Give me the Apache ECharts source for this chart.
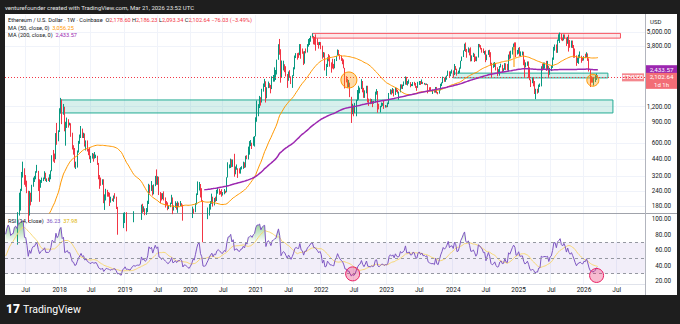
<!DOCTYPE html>
<html><head><meta charset="utf-8">
<script src="https://cdn.jsdelivr.net/npm/echarts@6/dist/echarts.min.js"></script>
<style>
html,body{margin:0;padding:0;background:#1e1e1e;}
#panel{position:absolute;left:5px;top:14px;width:672px;height:281px;background:#ffffff;}
#c{position:absolute;left:0;top:0;width:680px;height:324px;}
</style>
</head><body><div id="panel"></div><div id="c"></div>
<script>
// ---------- weekly closes (bars start Monday), from 2016-05-23 ----------
const c2016 = [12.5,13.9,17.5,12.6,13.6,11.9,11.0,11.4,12.6,11.5,10.7,11.2,11.2,11.0,11.9,11.7,12.6,13.0,13.2,12.0,11.9,11.5,10.9,10.9,10.0,9.6,8.9,7.6,8.2,7.8,7.2,8.2];
const c2017 = [10.2,9.8,10.6,10.5,11.3,11.4,12.8,15.0,19.2,23.0,34.0,50.0,48.6,
  43.6,48,49,79.5,90.5,88,154,172,245,335,355,283,282,238,155,226,197,265,298,298,347,350,298,258,283,302,309,336,296,297,296,307,354,471,462,450,720,674,755];
const c2018 = [1150,1370,1160,1250,830,860,925,845,865,720,540,520,385,400,510,620,690,785,685,715,570,615,525,500,455,455,490,450,460,465,405,320,295,275,295,197,220,245,232,226,196,205,204,213,212,175,115,118,91,84,130,137];
const c2019 = [155,117,119,113,107,120,133,138,131,136,138,137,141,185,166,170,156,162,188,262,251,265,230,268,310,290,307,230,226,208,222,206,195,186,172,178,189,211,173,176,186,172,183,182,189,184,140,150,150,141,132,128];
const c2020 = [136,146,165,161,189,228,265,270,218,199,124,122,125,142,158,180,195,209,187,206,202,231,241,236,229,221,227,241,236,311,386,391,434,392,428,353,366,370,355,351,374,377,406,396,455,448,560,575,600,589,652,685];
const c2021 = [975,1225,1230,1390,1315,1610,1810,1935,1420,1725,1855,1785,1690,2075,2140,2240,2310,2950,3910,3580,2100,2420,2630,2510,2240,1975,2320,2140,1895,2190,2550,3160,3310,3240,3225,3940,3410,3330,2925,3420,3415,3850,4060,4290,4610,4630,4300,4290,4190,4070,3920,4050];
const c2022 = [3830,3080,3330,2540,2600,3050,2870,2630,2620,2550,2520,2940,3140,3520,3260,3060,2920,2830,2520,2060,2050,1800,1810,1450,1130,1230,1070,1170,1360,1550,1680,1730,1935,1620,1430,1575,1770,1335,1310,1275,1320,1275,1310,1590,1620,1220,1140,1200,1260,1265,1185,1220];
const c2023 = [1200,1265,1550,1630,1570,1630,1515,1690,1595,1565,1590,1800,1750,1795,1860,2090,1860,1870,1900,1800,1805,1910,1890,1750,1720,1900,1950,1870,1930,1850,1860,1830,1850,1680,1650,1630,1620,1625,1595,1730,1580,1555,1665,1795,1895,2050,2010,2065,2170,2345,2200,2270,2280];
const c2024 = [2220,2510,2450,2260,2290,2500,2880,3110,3490,3880,3520,3450,3650,3450,3150,3160,3250,3120,2930,3070,3830,3780,3680,3620,3420,3440,2930,3250,3530,3270,2690,2550,2610,2750,2430,2270,2300,2580,2660,2440,2460,2750,2510,2460,3180,3080,3360,3700,3990,3870,3280,3360];
const c2025 = [3630,3270,3300,3310,2880,2630,2690,2820,2520,2020,1890,1980,1820,1550,1590,1580,1790,1810,2550,2490,2520,2530,2510,2540,2230,2500,2570,2960,3750,3790,3490,4260,4470,4780,4390,4300,4660,4450,4020,4520,4150,3980,4160,3900,3580,3180,2800,2990,3040,3110,2980,2940];
const c2026 = [3130,3090,3300,2950,2450,2090,2050,1960,1980,2050,2178.67,2102.64];

// ---------- weekly highs / lows, from 2017-04-03 ----------
const h2017 = [51,50,50.5,80,98,93,160,232,250,345,420,370,325,292,241,240,232,270,310,320,350,395,352,300,296,310,310,350,340,305,310,330,355,475,525,490,725,880,765];
const l2017 = [41,42,46.5,48.5,76,84,86,150,165,240,310,270,260,230,132,150,182,195,260,285,300,340,240,195,255,280,290,300,290,285,290,285,300,350,420,410,440,580,620];
const h2018 = [1165,1420,1380,1265,1200,900,975,945,885,875,730,575,545,420,520,625,705,830,790,730,720,630,630,535,550,470,495,490,505,480,470,410,325,310,300,300,225,250,245,235,232,215,208,220,230,215,177,125,120,93,145,158];
const l2018 = [740,1050,860,1030,750,570,800,805,840,675,530,480,375,365,375,500,590,660,660,660,560,520,510,475,440,410,445,420,445,450,395,300,250,265,270,190,167,200,215,215,180,192,198,195,207,170,104,105,88,82,82,118];
const h2019 = [160,160,126,122,115,125,138,163,141,141,141,143,144,185,188,179,172,173,199,275,270,290,268,272,320,362,318,315,235,230,230,238,212,198,193,182,192,223,212,182,197,191,197,192,198,190,185,156,153,151,146,133];
const l2019 = [130,111,114,108,102,104,117,132,125,125,130,133,131,138,158,161,151,152,160,187,229,240,220,225,263,270,270,222,190,200,205,200,175,182,166,170,176,187,154,165,174,168,158,177,180,178,136,138,145,139,117,124];
const h2020 = [138,148,178,171,190,229,288,285,274,253,201,148,146,150,175,187,198,228,215,210,215,245,254,250,240,248,235,249,241,312,415,398,445,439,438,488,383,398,370,370,378,385,420,415,470,475,560,622,635,603,675,685];
const l2020 = [126,133,143,155,160,185,222,242,212,195,90,107,121,124,140,150,168,188,178,182,195,198,228,223,225,215,220,225,230,234,310,370,372,378,380,315,330,360,308,335,334,362,366,372,376,440,438,480,565,535,570,560];
const h2021 = [980,1350,1260,1475,1440,1690,1870,2040,1950,1740,1940,1880,1820,2145,2200,2545,2420,2950,3960,4380,3600,2900,2890,2700,2600,2240,2350,2410,2140,2190,2550,3190,3340,3340,3370,3970,3970,3650,3450,3470,3650,3970,4370,4460,4650,4870,4630,4550,4780,4420,4120,4140];
const l2021 = [680,900,1000,1170,1225,1300,1600,1750,1300,1410,1710,1720,1550,1680,1935,1940,2000,2220,2940,3240,1900,2100,2400,2320,2140,1720,1970,2080,1850,1720,2150,2450,3040,2950,3050,3210,3000,3300,2660,2730,3330,3380,3780,3900,4150,4550,3950,3920,3500,3900,3640,3890];
const h2022 = [4125,3850,3410,3380,2720,3080,3280,3200,2800,3000,2720,2990,3170,3580,3550,3270,3190,3030,2960,2520,2150,2050,2000,1900,1450,1270,1230,1290,1370,1650,1790,1730,2030,1960,1720,1640,1790,1790,1400,1400,1390,1340,1340,1600,1680,1620,1270,1220,1300,1290,1350,1240];
const l2022 = [3600,3000,3080,2400,2160,2560,2860,2580,2300,2490,2450,2500,2870,3200,3170,2950,2880,2700,2500,1700,1910,1720,1740,1440,880,1040,1000,1060,1000,1340,1370,1550,1680,1580,1420,1420,1550,1300,1220,1260,1270,1190,1270,1300,1510,1070,1140,1075,1190,1220,1150,1180];
const h2023 = [1230,1300,1560,1675,1660,1715,1680,1740,1715,1660,1600,1840,1840,1830,1945,2140,2120,1960,2020,1920,1850,1920,1930,1890,1780,1930,1960,1960,2020,1930,1890,1870,1870,1850,1740,1745,1650,1660,1650,1750,1750,1590,1670,1860,1910,2130,2090,2130,2180,2390,2360,2360,2440];
const l2023 = [1185,1190,1260,1520,1510,1550,1460,1500,1590,1545,1370,1580,1690,1680,1780,1830,1820,1800,1860,1740,1780,1780,1800,1720,1625,1720,1820,1820,1850,1850,1830,1810,1820,1550,1640,1620,1610,1530,1570,1570,1550,1520,1540,1640,1780,1880,1930,1930,2010,2160,2120,2150,2260];
const h2024 = [2400,2715,2610,2480,2390,2540,2890,3130,3520,4000,4090,3620,3730,3650,3730,3200,3360,3300,3130,3130,3980,3970,3890,3690,3650,3480,3520,3250,3530,3560,3400,2780,2780,2820,2770,2550,2460,2610,2730,2670,2500,2760,2750,2720,3250,3450,3500,3740,4010,4100,4100,3550];
const l2024 = [2100,2200,2420,2170,2250,2280,2480,2870,3100,3480,3420,3060,3380,3200,2850,2860,3100,2820,2870,2860,3070,3730,3580,3370,3350,3250,2810,2920,3230,3090,2630,2110,2520,2560,2400,2150,2270,2170,2540,2310,2350,2430,2420,2400,2350,2960,3020,3250,3550,3530,3100,3250];
const h2025 = [3700,3750,3450,3450,3430,2950,2800,2850,2850,2550,2020,2100,2100,1960,1690,1690,1830,1870,2600,2740,2790,2790,2880,2880,2620,2520,2640,3070,3760,3940,3940,4330,4790,4950,4830,4490,4770,4770,4480,4560,4760,4290,4250,4250,3900,3650,3200,3060,3240,3450,3180,3060];
const l2025 = [3300,3150,3150,3200,2650,2120,2540,2620,2080,1990,1750,1880,1770,1530,1385,1540,1570,1750,1770,2400,2450,2480,2380,2440,2120,2210,2370,2520,2940,3500,3360,3360,4220,4060,4260,4200,4260,4400,3830,3990,3440,3700,3700,3680,3060,3060,2620,2770,2720,3030,2780,2880];
const h2026 = [3150,3300,3400,3320,3020,2460,2150,2100,2080,2200,2260,2186.23];
const l2026 = [2900,3050,3080,2880,2350,1750,1900,1900,1800,1920,2000,2093.34];

// ---------- axis ticks ----------
const priceTicks = [180,240,320,440,600,900,1200,3800,5000];
const rsiTicks = [20,40,60,80,100];

// ---------- drawings / annotations (data coords) ----------
const athZone = {from:'2021-11-08', to:'2026-07-20', top:4870, bottom:4450};
const supportZone = {from:'2018-01-08', to:'2026-06-08', top:1365, bottom:1065};
const smallZone = {from:'2024-01-01', to:'2026-05-11', top:2280, bottom:2080};
const priceCircles = [['2022-05-30',2000,16],['2026-02-16',1990,12]];
const rsiCircles = [['2022-06-20',29.5,14],['2026-03-09',27.5,14]];
const vMark = {week:'2024-12-02', top:3750, bottom:2560};
const lastPrice = 2102.64, ma200Last = 2433.57;

// ---------- build series ----------
const closes = [].concat(c2016,c2017,c2018,c2019,c2020,c2021,c2022,c2023,c2024,c2025,c2026);
const highs = [].concat(h2017,h2018,h2019,h2020,h2021,h2022,h2023,h2024,h2025,h2026);
const lows  = [].concat(l2017,l2018,l2019,l2020,l2021,l2022,l2023,l2024,l2025,l2026);
const DAY = 864e5, T0 = Date.UTC(2016,4,23);
const FUTURE = 37;
function fmt(t){const d=new Date(t);return d.getUTCFullYear()+'-'+String(d.getUTCMonth()+1).padStart(2,'0')+'-'+String(d.getUTCDate()).padStart(2,'0');}
const allDates = [];
for(let i=0;i<closes.length+FUTURE;i++) allDates.push(fmt(T0+i*7*DAY));
const VIEW = allDates.indexOf('2017-03-06');
const HL0 = allDates.indexOf('2017-04-03');

function sma(src,n){const out=[];for(let i=0;i<src.length;i++){if(i<n-1||src[i]==null||src[i-n+1]==null){out.push(null);continue;}let s=0;for(let j=i-n+1;j<=i;j++)s+=src[j];out.push(s/n);}return out;}
function rsiCalc(src,n){const out=new Array(src.length).fill(null);let ag=0,al=0;for(let i=1;i<src.length;i++){const ch=src[i]-src[i-1],g=Math.max(ch,0),l=Math.max(-ch,0);if(i<=n){ag+=g;al+=l;if(i===n){ag/=n;al/=n;out[i]=al===0?100:100-100/(1+ag/al);}}else{ag=(ag*(n-1)+g)/n;al=(al*(n-1)+l)/n;out[i]=al===0?100:100-100/(1+ag/al);}}return out;}

const ma50 = sma(closes,50), ma200 = sma(closes,200);
const rsi = rsiCalc(closes,14), rsiMa = sma(rsi,14);

const cats = allDates.slice(VIEW);
const candle=[], m50=[], m200=[], r=[], rm=[], obBase=[], obFill=[], osBase=[], osFill=[];
for(let k=VIEW;k<allDates.length;k++){
  const has = k<closes.length;
  if(has && k>=HL0) candle.push([closes[k-1],closes[k],lows[k-HL0],highs[k-HL0]]); else candle.push('-');
  const f=v=>(has&&v[k]!=null)?v[k]:'-';
  m50.push(f(ma50)); m200.push(f(ma200)); r.push(f(rsi)); rm.push(f(rsiMa));
  const rv = has?rsi[k]:null;
  if(rv!=null){obBase.push(70);obFill.push(Math.max(rv-70,0));osBase.push(Math.min(rv,30));osFill.push(30-Math.min(rv,30));}
  else{obBase.push('-');obFill.push('-');osBase.push('-');osFill.push('-');}
}

function mark(val){const e=new Date(Date.parse(val+'T00:00:00Z')+6*DAY);return e.getUTCDate()<=7&&(e.getUTCMonth()===0||e.getUTCMonth()===6);}
function markLabel(val){const e=new Date(Date.parse(val+'T00:00:00Z')+6*DAY);return e.getUTCMonth()===0?String(e.getUTCFullYear()):'Jul';}
const FONT='Roboto, "Liberation Sans", sans-serif';
const fmtPrice=v=>Number(v).toLocaleString('en-US',{minimumFractionDigits:2,maximumFractionDigits:2});

const chart = echarts.init(document.getElementById('c'),null,{renderer:'svg',width:680,height:324});
const xBase = {type:'category',data:cats,boundaryGap:true,axisLine:{show:false},axisTick:{show:false},
  splitLine:{show:true,interval:(i,v)=>mark(v),lineStyle:{color:'#f0f3fa',width:1}}};
const option = {
  backgroundColor:'transparent',
  animation:false,
  grid:[{left:5,top:15,width:640,height:198},{left:5,top:214,width:640,height:70}],
  xAxis:[
    Object.assign({},xBase,{gridIndex:0,axisLabel:{show:false}}),
    Object.assign({},xBase,{gridIndex:1,axisLabel:{show:true,interval:(i,v)=>mark(v),formatter:markLabel,color:'#131722',fontSize:6.5,fontFamily:FONT,margin:2}})
  ],
  yAxis:[
    {type:'log',logBase:10,gridIndex:0,position:'right',min:157.5,max:6920,
     axisLine:{show:false},axisTick:{show:false,customValues:priceTicks},
     axisLabel:{customValues:priceTicks,formatter:fmtPrice,color:'#131722',fontSize:6.3,fontFamily:FONT,align:'right',margin:26},
     splitLine:{show:true,lineStyle:{color:'#f0f3fa'}}},
    {type:'value',gridIndex:1,position:'right',min:16.45,max:106.8,
     axisLine:{show:false},axisTick:{show:false,customValues:rsiTicks},
     axisLabel:{customValues:rsiTicks,formatter:v=>Number(v).toFixed(2),color:'#131722',fontSize:6.3,fontFamily:FONT,align:'right',margin:26},
     splitLine:{show:false}}
  ],
  series:[
    {type:'candlestick',name:'ETHUSD',xAxisIndex:0,yAxisIndex:0,data:candle,barWidth:1,clip:true,
     itemStyle:{color:'#089981',color0:'#f23645',borderColor:'#089981',borderColor0:'#f23645',borderWidth:1},
     markArea:{silent:true,data:[
       [{xAxis:athZone.from,yAxis:athZone.top,itemStyle:{color:'rgba(242,54,69,0.12)',borderColor:'#f7525f',borderWidth:1}},{xAxis:athZone.to,yAxis:athZone.bottom}],
       [{xAxis:supportZone.from,yAxis:supportZone.top,itemStyle:{color:'rgba(34,171,148,0.18)',borderColor:'#22ab94',borderWidth:1}},{xAxis:supportZone.to,yAxis:supportZone.bottom}],
       [{xAxis:smallZone.from,yAxis:smallZone.top,itemStyle:{color:'rgba(34,171,148,0.18)',borderColor:'#22ab94',borderWidth:1}},{xAxis:smallZone.to,yAxis:smallZone.bottom}]
     ]},
     markLine:{silent:true,symbol:'none',label:{show:false},data:[
       {yAxis:lastPrice,lineStyle:{color:'#f23645',type:[1,2],width:1}},
       [{coord:[vMark.week,vMark.top],lineStyle:{color:'#ffb74d',type:'solid',width:1.5}},{coord:[vMark.week,vMark.bottom]}]
     ]},
     markPoint:{silent:true,data:priceCircles.map(p=>({coord:[p[0],p[1]],symbol:'circle',symbolSize:p[2],
       itemStyle:{color:'rgba(255,152,0,0.35)',borderColor:'#ff9800',borderWidth:1},label:{show:false}}))}
    },
    {type:'line',name:'MA 50',xAxisIndex:0,yAxisIndex:0,data:m50,showSymbol:false,lineStyle:{color:'#ff9800',width:1},clip:true,silent:true},
    {type:'line',name:'MA 200',xAxisIndex:0,yAxisIndex:0,data:m200,showSymbol:false,lineStyle:{color:'#9c27b0',width:1.5},clip:true,silent:true},
    {type:'line',xAxisIndex:1,yAxisIndex:1,data:obBase,stack:'ob',showSymbol:false,lineStyle:{opacity:0},silent:true},
    {type:'line',xAxisIndex:1,yAxisIndex:1,data:obFill,stack:'ob',showSymbol:false,lineStyle:{opacity:0},silent:true,
     areaStyle:{color:new echarts.graphic.LinearGradient(0,0,0,1,[{offset:0,color:'rgba(76,175,80,0.95)'},{offset:1,color:'rgba(76,175,80,0)'}])}},
    {type:'line',xAxisIndex:1,yAxisIndex:1,data:osBase,stack:'os',showSymbol:false,lineStyle:{opacity:0},silent:true},
    {type:'line',xAxisIndex:1,yAxisIndex:1,data:osFill,stack:'os',showSymbol:false,lineStyle:{opacity:0},silent:true,
     areaStyle:{color:new echarts.graphic.LinearGradient(0,0,0,1,[{offset:0,color:'rgba(242,54,69,0)'},{offset:1,color:'rgba(242,54,69,0.9)'}])}},
    {type:'line',name:'RSI-based MA',xAxisIndex:1,yAxisIndex:1,data:rm,showSymbol:false,lineStyle:{color:'#f7d774',width:1},silent:true},
    {type:'line',name:'RSI',xAxisIndex:1,yAxisIndex:1,data:r,showSymbol:false,lineStyle:{color:'#7e57c2',width:1},silent:true,
     markArea:{silent:true,data:[[{yAxis:30,itemStyle:{color:'rgba(126,87,194,0.1)'}},{yAxis:70}]]},
     markLine:{silent:true,symbol:'none',label:{show:false},lineStyle:{color:'#9598a1',type:[3,3],width:1},data:[{yAxis:70},{yAxis:50},{yAxis:30}]},
     markPoint:{silent:true,data:rsiCircles.map(p=>({coord:[p[0],p[1]],symbol:'circle',symbolSize:p[2],
       itemStyle:{color:'rgba(233,30,99,0.3)',borderColor:'#e91e63',borderWidth:1},label:{show:false}}))}
    }
  ]
};
chart.setOption(option);

const yLast = chart.convertToPixel({yAxisIndex:0},lastPrice);
const yMa = chart.convertToPixel({yAxisIndex:0},ma200Last);
const t=(x,y,text,fill,size)=>({type:'text',x,y,style:{text,fill,fontSize:size,fontFamily:FONT,verticalAlign:'middle',align:'left'}});
chart.setOption({graphic:[
  {type:'line',shape:{x1:5,y1:213.5,x2:677,y2:213.5},style:{stroke:'#a0a3ab',lineWidth:1.2}},
  {type:'line',shape:{x1:645.5,y1:14,x2:645.5,y2:295},style:{stroke:'#b2b5be',lineWidth:1}},
  {type:'line',shape:{x1:5,y1:284.5,x2:645,y2:284.5},style:{stroke:'#e0e3eb',lineWidth:1}},
  t(5,7,'venturefounder created with TradingView.com, Mar 21, 2026 23:52 UTC','#e6e6e6',6),
  {type:'text',x:8,y:20,style:{text:'{d|Ethereum / U.S. Dollar · 1W · Coinbase}  {d|O}{r|2,178.60} {d|H}{r|2,186.23} {d|L}{r|2,093.34} {d|C}{r|2,102.64} {r|−76.03 (−3.49%)}',
    verticalAlign:'middle',fontFamily:FONT,fontSize:5.6,rich:{d:{fill:'#131722',fontSize:5.6,fontFamily:FONT},r:{fill:'#f23645',fontSize:5.6,fontFamily:FONT}}}},
  {type:'text',x:8,y:28,style:{text:'{d|MA (50, close, 0)}  {o|3,056.25}',verticalAlign:'middle',fontFamily:FONT,fontSize:5.6,
    rich:{d:{fill:'#131722',fontSize:5.6,fontFamily:FONT},o:{fill:'#ff9800',fontSize:5.6,fontFamily:FONT}}}},
  {type:'text',x:8,y:35,style:{text:'{d|MA (200, close, 0)}  {p|2,433.57}',verticalAlign:'middle',fontFamily:FONT,fontSize:5.6,
    rich:{d:{fill:'#131722',fontSize:5.6,fontFamily:FONT},p:{fill:'#9c27b0',fontSize:5.6,fontFamily:FONT}}}},
  {type:'text',x:8,y:220.5,z:100,style:{text:'{d|RSI (14, close)}  {p|36.23}  {y|37.98}',verticalAlign:'middle',fontFamily:FONT,fontSize:5.6,
    rich:{d:{fill:'#131722',fontSize:5.6,fontFamily:FONT},p:{fill:'#7e57c2',fontSize:5.6,fontFamily:FONT},y:{fill:'#e0b400',fontSize:5.6,fontFamily:FONT}}}},
  t(650,21,'USD','#131722',6),
  {type:'rect',shape:{x:646,y:yMa-4.5,width:31,height:9},style:{fill:'#9c27b0'}},
  {type:'text',x:661.5,y:yMa,style:{text:fmtPrice(ma200Last),fill:'#ffffff',fontSize:6.2,fontFamily:FONT,verticalAlign:'middle',align:'center'}},
  {type:'rect',shape:{x:646,y:yLast-4.5,width:31,height:16},style:{fill:'#f26d76'}},
  {type:'text',x:661.5,y:yLast,style:{text:fmtPrice(lastPrice),fill:'#ffffff',fontSize:6.2,fontFamily:FONT,verticalAlign:'middle',align:'center'}},
  {type:'text',x:661.5,y:yLast+7,style:{text:'1d 1h',fill:'#ffffff',fontSize:6,fontFamily:FONT,verticalAlign:'middle',align:'center'}},
  {type:'rect',shape:{x:622,y:yLast-4,width:22,height:8},style:{fill:'#f4878e'}},
  {type:'text',x:633,y:yLast,style:{text:'ETHUSD',fill:'#ffffff',fontSize:5.5,fontWeight:'bold',fontFamily:FONT,verticalAlign:'middle',align:'center'}},
  {type:'text',x:6,y:309,style:{text:'17',fill:'#ffffff',fontSize:12,fontWeight:900,fontFamily:FONT,verticalAlign:'middle',align:'left'}},
  {type:'text',x:23,y:309,style:{text:'TradingView',fill:'#ffffff',fontSize:10.5,fontFamily:FONT,verticalAlign:'middle',align:'left'}}
]});
</script></body></html>
